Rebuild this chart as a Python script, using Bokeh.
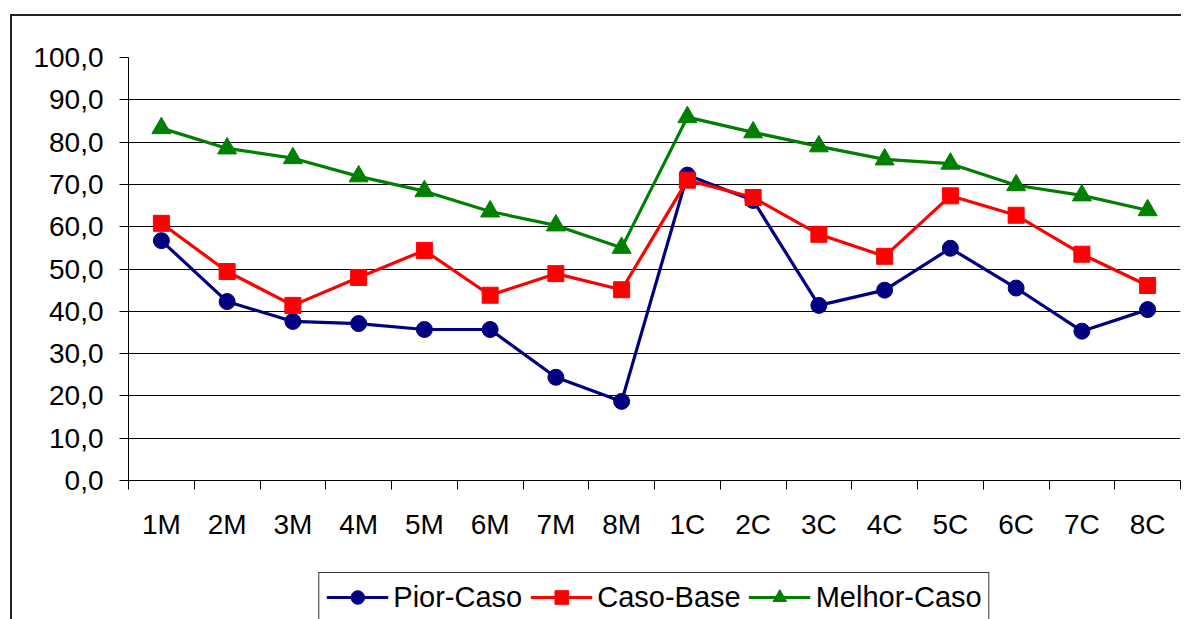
from bokeh.plotting import figure
from bokeh.layouts import column
from bokeh.models import Range1d, LinearAxis, FixedTicker, Legend, LegendItem
from bokeh.embed import file_html
from bokeh.resources import INLINE

categories = ["1M", "2M", "3M", "4M", "5M", "6M", "7M", "8M",
              "1C", "2C", "3C", "4C", "5C", "6C", "7C", "8C"]
pior_caso = [56.7, 42.3, 37.6, 37.1, 35.7, 35.7, 24.4, 18.7,
             72.2, 66.2, 41.4, 45.0, 54.9, 45.5, 35.3, 40.4]
caso_base = [60.8, 49.4, 41.4, 48.0, 54.4, 43.8, 48.9, 45.1,
             71.0, 66.9, 58.2, 53.0, 67.3, 62.7, 53.5, 46.1]
melhor_caso = [83.3, 78.5, 76.2, 71.9, 68.4, 63.6, 60.3, 55.0,
               85.9, 82.3, 79.0, 75.9, 74.9, 69.8, 67.4, 63.9]
y_ticks = [0, 10, 20, 30, 40, 50, 60, 70, 80, 90, 100]
y_labels = ["0,0", "10,0", "20,0", "30,0", "40,0", "50,0", "60,0",
            "70,0", "80,0", "90,0", "100,0"]
series_names = ["Pior-Caso", "Caso-Base", "Melhor-Caso"]

FONT = "Liberation Sans"
FS = "28px"

n = len(categories)
x_centers = [i + 0.5 for i in range(n)]      # category slot centres
x_edges = list(range(n + 1))                 # category slot boundaries

p = figure(width=1169, height=550,
           x_range=Range1d(0, n), y_range=Range1d(0, 100),
           output_backend="svg", toolbar_location=None,
           x_axis_location=None,
           min_border_left=116, min_border_right=1,
           min_border_top=41, min_border_bottom=86)
p.outline_line_color = None
p.background_fill_color = "white"
p.border_fill_color = "white"

for g in p.grid:
    if g.dimension == 0:
        g.visible = False

# y axis
yax = p.yaxis[0]
yax.ticker = FixedTicker(ticks=y_ticks)
yax.major_label_overrides = dict(zip(y_ticks, y_labels))
yax.minor_tick_line_color = None
yax.major_tick_out = 9
yax.major_tick_in = 0
yax.major_label_standoff = 16
yax.axis_line_color = "black"
yax.major_tick_line_color = "black"
yax.major_label_text_font = FONT
yax.major_label_text_font_size = FS
yax.major_label_text_color = "black"

p.ygrid.grid_line_color = "black"
p.ygrid.grid_line_width = 1
p.ygrid.ticker = FixedTicker(ticks=y_ticks)

# x axis: labels at slot centres, tick marks at slot boundaries
xax = LinearAxis(ticker=FixedTicker(ticks=x_centers, minor_ticks=x_edges),
                 major_label_overrides=dict(zip(x_centers, categories)),
                 major_tick_out=0, major_tick_in=0,
                 major_tick_line_color=None,
                 minor_tick_out=9, minor_tick_in=0,
                 minor_tick_line_color="black",
                 axis_line_color="black",
                 major_label_standoff=19,
                 major_label_text_font=FONT,
                 major_label_text_font_size=FS,
                 major_label_text_color="black")
p.add_layout(xax, "below")

colors = ["#000080", "#FF0000", "#008000"]
markers = ["circle", "square", "triangle"]
sizes = [16, 16, 19]
data = [pior_caso, caso_base, melhor_caso]
for vals, c, m, s in zip(data, colors, markers, sizes):
    p.line(x_centers, vals, line_color=c, line_width=3.2)
    p.scatter(x_centers, vals, marker=m, size=s, fill_color=c, line_color=c)

# legend strip below the chart; its renderers carry the same series but lie
# outside this strip's view, so only the legend entries show
p2 = figure(width=1169, height=53, x_range=Range1d(0, n), y_range=Range1d(1000, 1001),
            output_backend="svg", toolbar_location=None,
            x_axis_location=None, y_axis_location=None,
            min_border_left=116, min_border_right=1,
            min_border_top=0, min_border_bottom=0)
p2.outline_line_color = None
p2.grid.visible = False
items = []
for name, vals, c, m, s in zip(series_names, data, colors, markers, sizes):
    lr = p2.line(x_centers, vals, line_color=c, line_width=3.2)
    sr = p2.scatter(x_centers, vals, marker=m, size=s, fill_color=c, line_color=c)
    items.append(LegendItem(label=name, renderers=[lr, sr]))
legend = Legend(items=items, orientation="horizontal", location="top_center",
                label_text_font=FONT, label_text_font_size="29px",
                label_text_color="black",
                glyph_width=62, glyph_height=34, label_standoff=5, spacing=8,
                padding=7, margin=6, border_line_color="#333333",
                border_line_alpha=1, border_line_width=1.5,
                background_fill_color="white", background_fill_alpha=1)
p2.add_layout(legend, "center")

layout = column(p, p2, spacing=0)
layout.margin = (14, 0, 0, 10)
layout.styles = {"border-left": "2px solid #222222", "border-top": "2px solid #222222"}

open("out.html", "w").write(file_html(layout, INLINE))
